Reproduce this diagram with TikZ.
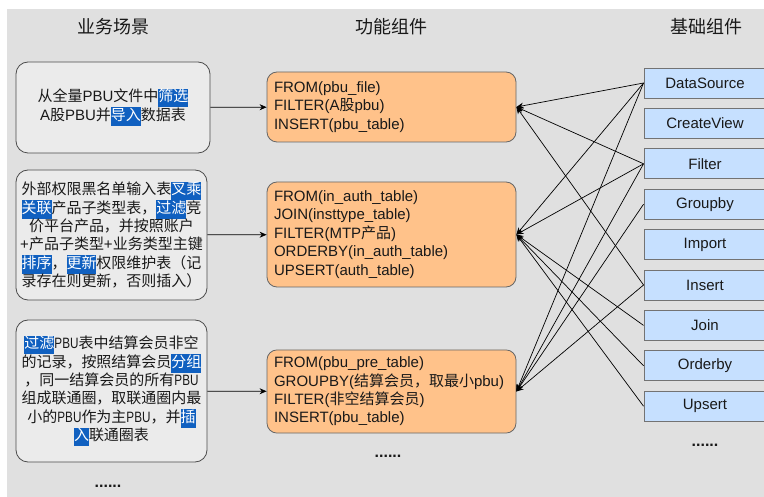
\documentclass[tikz,border=0pt]{standalone}
\usepackage{fontspec}
\setmainfont{Liberation Sans}
\newfontfamily\cjk{Noto Sans CJK SC}
\usepackage{graphicx}
\usetikzlibrary{arrows.meta,positioning}
\definecolor{bgcolor}{RGB}{224,224,224}
\definecolor{scenecolor}{RGB}{235,235,235}
\definecolor{funccolor}{RGB}{255,194,138}
\definecolor{basecolor}{RGB}{198,224,255}
\definecolor{hlcolor}{RGB}{16,96,192}
\newcommand{\zh}[1]{{\cjk #1}}
\newcommand{\hl}[1]{{\setlength{\fboxsep}{0pt}\colorbox{hlcolor}{\color{white}\cjk\strut #1}}}
\newcommand{\nb}[1]{\scalebox{0.78}[1]{#1}}

\begin{document}
\begin{tikzpicture}[
    x=1pt, y=-1pt,
    every node/.style={font=\fontsize{15}{18.4}\selectfont, text=black!90},
    header/.style={font=\fontsize{18}{22}\selectfont\cjk},
    scene/.style={rectangle, draw=black!70, fill=scenecolor, rounded corners=12pt, line width=0.8pt, align=center, inner sep=2pt},
    func/.style={rectangle, draw=black!60, fill=funccolor, rounded corners=10pt, line width=0.8pt, text width=235pt, align=left, inner sep=7pt},
    base/.style={rectangle, draw=black!55, fill=basecolor, line width=0.9pt, minimum width=122pt, minimum height=30pt},
    dots/.style={font=\fontsize{16}{16}\selectfont\bfseries},
    edge/.style={-{Stealth[length=7pt,width=6pt]}, line width=0.7pt}
]
    \useasboundingbox (0,0) rectangle (764,497);
    \fill[bgcolor] (7,9) rectangle (764,497);

    % Headers
    \node[header] (h1) at (113,27) {业务场景};
    \node[header] (h2) at (391,27) {功能组件};
    \node[header] (h3) at (706,27) {基础组件};

    % Scenes
    \node[scene, text width=190pt, minimum height=91pt] (s1) at (113,107.5)
        {\zh{从全量}PBU\zh{文件中}\hl{筛选}\\A\zh{股}PBU\zh{并}\hl{导入}\zh{数据表}};
    \node[scene, text width=187pt, minimum height=130pt] (s2) at (111.5,235)
        {\zh{外部权限黑名单输入表}\hl{叉乘}\\
         \hl{关联}\zh{产品子类型表，}\hl{过滤}\zh{竞}\\
         \zh{价平台产品，并按照账户}\\
         +\zh{产品子类型}+\zh{业务类型主键}\\
         \hl{排序}\zh{，}\hl{更新}\zh{权限维护表（记}\\
         \zh{录存在则更新，否则插入）}};
    \node[scene, text width=187pt, minimum height=142pt] (s3) at (111.5,391)
        {\hl{过滤}\nb{PBU}\zh{表中结算会员非空}\\
         \zh{的记录，按照结算会员}\hl{分组}\\
         \zh{，同一结算会员的所有}\nb{PBU}\\
         \zh{组成联通圈，取联通圈内最}\\
         \zh{小的}\nb{PBU}\zh{作为主}\nb{PBU}\zh{，并}\hl{插}\\
         \hl{入}\zh{联通圈表}};
    \node[dots] (sdots) at (108,486) {......};

    % Functions
    \node[func, minimum height=70pt] (f1) at (391.5,107)
        {FROM(pbu\_file)\\FILTER(A\zh{股}pbu)\\INSERT(pbu\_table)};
    \node[func, minimum height=105pt] (f2) at (391.5,234.5)
        {FROM(in\_auth\_table)\\JOIN(insttype\_table)\\FILTER(MTP\zh{产品})\\ORDERBY(in\_auth\_table)\\UPSERT(auth\_table)};
    \node[func, minimum height=81pt] (f3) at (391.5,391.5)
        {FROM(pbu\_pre\_table)\\GROUPBY(\zh{结算会员，取最小}pbu)\\FILTER(\zh{非空结算会员})\\INSERT(pbu\_table)};
    \node[dots] (fdots) at (388,456) {......};

    % Base components
    \node[base] (ds) at (705,83) {DataSource};
    \node[base, below=9.5pt of ds] (cv) {CreateView};
    \node[base, below=9.5pt of cv] (fi) {Filter};
    \node[base, below=9.5pt of fi] (gb) {Groupby};
    \node[base, below=9.5pt of gb] (im) {Import};
    \node[base, below=9.5pt of im] (in) {Insert};
    \node[base, below=9.5pt of in] (jo) {Join};
    \node[base, below=9.5pt of jo] (ob) {Orderby};
    \node[base, below=9.5pt of ob] (up) {Upsert};
    \node[dots] (bdots) at (705,445) {......};

    % Edges
    \draw[edge] (s1) -- (f1);
    \draw[edge] (s2) -- (f2);
    \draw[edge] (s3) -- (f3);

    \draw[edge] (ds.west) -- (f1.east);
    \draw[edge] (fi.west) -- (f1.east);
    \draw[edge] (in.west) -- (f1.east);

    \draw[edge] (ds.west) -- (f2.east);
    \draw[edge] (fi.west) -- (f2.east);
    \draw[edge] (jo.west) -- (f2.east);
    \draw[edge] (ob.west) -- (f2.east);
    \draw[edge] (up.west) -- (f2.east);

    \draw[edge] (ds.west) -- (f3.east);
    \draw[edge] (fi.west) -- (f3.east);
    \draw[edge] (gb.west) -- (f3.east);
    \draw[edge] (in.west) -- (f3.east);
\end{tikzpicture}
\end{document}
